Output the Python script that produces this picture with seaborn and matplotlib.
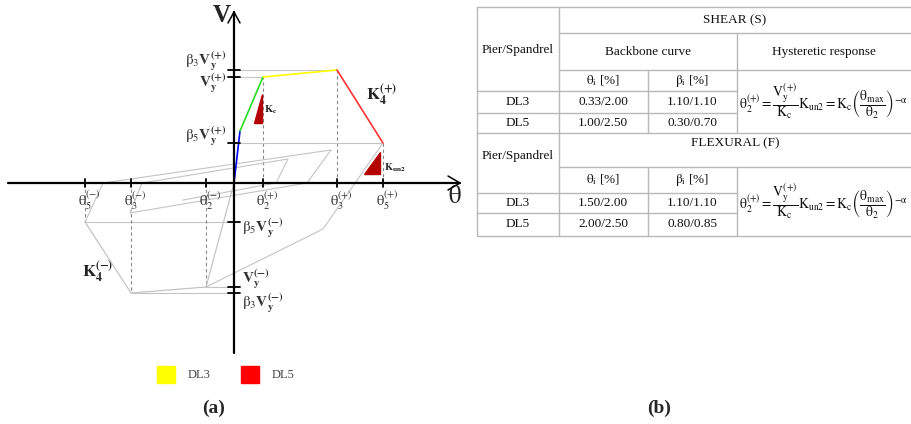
import matplotlib
matplotlib.use("Agg")
import matplotlib.pyplot as plt
import numpy as np
import pandas as pd
import seaborn as sns
from matplotlib.patches import Polygon, Rectangle

sns.set_style("white")
plt.rcParams["font.family"] = ["Liberation Serif", "DejaVu Serif"]
plt.rcParams["mathtext.fontset"] = "stix"

# ---- (a) schematic backbone / hysteresis (schematic units) ----
theta_ticks = [-149, -103, -28, 29, 103, 149]
theta_tick_labels = [r"$\mathrm{\theta_5^{(-)}}$", r"$\mathrm{\theta_3^{(-)}}$", r"$\mathrm{\theta_2^{(-)}}$",
                     r"$\mathrm{\theta_2^{(+)}}$", r"$\mathrm{\theta_3^{(+)}}$", r"$\mathrm{\theta_5^{(+)}}$"]
V_ticks = [113, 106, 40, -39, -104, -110]
V_tick_labels = [r"$\mathrm{\beta_3}\mathbf{V_y^{(+)}}$", r"$\mathbf{V_y^{(+)}}$", r"$\mathrm{\beta_5}\mathbf{V_y^{(+)}}$",
                 r"$\mathrm{\beta_5}\mathbf{V_y^{(-)}}$", r"$\mathbf{V_y^{(-)}}$", r"$\mathrm{\beta_3}\mathbf{V_y^{(-)}}$"]

# positive backbone, coloured by branch
theta_pos = [0, 6, 29, 103, 149]
V_pos = [0, 52, 106, 113, 40]
branch_colors = ["#0000ff", "#22dd22", "#ffff00", "#ff3333"]

# negative backbone (grey)
theta_neg = [0, -28, -103, -149]
V_neg = [0, -104, -110, -39]

# hysteretic loops (grey)
loop1_theta = [-149, -131, 97, 73, -104, -92, 54, 42, -51]
loop1_V = [-39, 0, 33, 0, -30, 0, 24, 0, -17]
loop2_theta = [149, 89, -28]
loop2_V = [40, -46, -104]

# stiffness triangles
kc_tri = [(20, 60), (28, 60), (28, 89)]
kun2_tri = [(130, 9), (146, 9), (146, 31)]

# legend
legend_labels = ["DL3", "DL5"]
legend_colors = ["#ffff00", "#ff0000"]

# ---- (b) table content ----
shear_rows = ["DL3", "DL5"]
shear_theta = ["0.33/2.00", "1.00/2.50"]
shear_beta = ["1.10/1.10", "0.30/0.70"]
flex_rows = ["DL3", "DL5"]
flex_theta = ["1.50/2.00", "2.00/2.50"]
flex_beta = ["1.10/1.10", "0.80/0.85"]
formula = (r"$\mathrm{\theta_2^{(+)}}=\dfrac{\mathrm{V_y^{(+)}}}{\mathrm{K_c}}\mathrm{K_{un2}}=\mathrm{K_c}"
           r"\left(\dfrac{\mathrm{\theta_{max}}}{\mathrm{\theta_2}}\right)^{\mathrm{-\alpha}}$")

W, H = 911, 424
fig = plt.figure(figsize=(W / 100, H / 100), dpi=100)

ax = fig.add_axes([0, 0, 470 / W, 1])
ax.set_xlim(-234, 236)
ax.set_ylim(-241, 183)
ax.axis("off")

grey = "#c4c4c4"
dash_grey = "#8a8a8a"

# guide lines to the axes
for t, v in [(29, 106), (103, 113), (149, 40), (-149, -39), (-103, -110), (-28, -104)]:
    ax.plot([t, t], [0, v], ls=(0, (3, 2.5)), color=dash_grey, lw=0.8, zorder=1)
    ax.plot([0, t], [v, v], color=grey, lw=0.8, zorder=1)

# hysteretic loops and negative backbone
ax.plot(loop1_theta, loop1_V, color=grey, lw=0.8, zorder=1)
ax.plot(loop2_theta, loop2_V, color=grey, lw=0.8, zorder=1)
ax.plot(theta_neg, V_neg, color=grey, lw=0.9, zorder=1)

# coloured positive backbone
rows = []
for i, c in enumerate(branch_colors):
    for j in (i, i + 1):
        rows.append({"theta": theta_pos[j], "V": V_pos[j], "branch": c})
bb = pd.DataFrame(rows)
sns.lineplot(data=bb, x="theta", y="V", hue="branch", palette={c: c for c in branch_colors},
             sort=False, estimator=None, legend=False, lw=1.2, ax=ax, zorder=3)

# axes with open arrowheads
ax.plot([-226, 226], [0, 0], color="black", lw=1.6, zorder=4)
ax.plot([214, 226, 214], [7, 0, -7], color="black", lw=1.1, zorder=4)
ax.plot([0, 0], [-170, 171], color="black", lw=1.6, zorder=4)
ax.plot([-6, 0, 6], [160, 171, 160], color="black", lw=1.1, zorder=4)

for t, lab in zip(theta_ticks, theta_tick_labels):
    ax.plot([t, t], [-4, 4], color="black", lw=1.3, zorder=4)
    ax.text(t + 4, -6, lab, ha="center", va="top", fontsize=10.5, color="#333333")

V_label_y = [122, 100, 47, -45, -96, -120]
for v, lab, ly in zip(V_ticks, V_tick_labels, V_label_y):
    ax.plot([-6, 6], [v, v], color="black", lw=1.3, zorder=4)
    if v > 0:
        ax.text(-7, ly, lab, ha="right", va="center", fontsize=11, color="#333333")
    else:
        ax.text(8, ly, lab, ha="left", va="center", fontsize=11, color="#333333")

ax.add_patch(Polygon(kc_tri, closed=True, color="#b30000", zorder=2))
ax.add_patch(Polygon(kun2_tri, closed=True, color="#b30000", zorder=2))
ax.text(30, 73, r"$\mathbf{K_c}$", fontsize=7.5, ha="left", va="center", color="#222222")
ax.text(150, 15, r"$\mathbf{K_{un2}}$", fontsize=7.5, ha="left", va="center", color="#222222")
ax.text(132, 88, r"$\mathbf{K_4^{(+)}}$", fontsize=12, ha="left", va="center", color="#222222")
ax.text(-152, -89, r"$\mathbf{K_4^{(-)}}$", fontsize=12, ha="left", va="center", color="#222222")
ax.text(-12, 167, "V", fontsize=18, fontweight="bold", ha="center", va="center")
ax.text(221, -14, r"$\mathrm{\theta}$", fontsize=18, ha="center", va="center", color="#222222")

# ---- overlay canvas for legend, captions and table ----
cv = fig.add_axes([0, 0, 1, 1])
cv.set_xlim(0, W)
cv.set_ylim(H, 0)
cv.axis("off")
cv.patch.set_alpha(0)

for x0, lab, col in zip([157, 241], legend_labels, legend_colors):
    cv.add_patch(Rectangle((x0, 366), 18, 17, color=col))
    cv.text(x0 + 31, 375, lab, fontsize=9, ha="left", va="center", color="#444444")

cv.text(214, 408, "(a)", fontsize=14, fontweight="bold", ha="center", va="center")
cv.text(659, 408, "(b)", fontsize=14, fontweight="bold", ha="center", va="center")

# table grid
lc, lw = "#b8b8b8", 1.0
xL, x1, x2, x3, xR = 477, 559, 648, 737, 911
hlines = [(7, xL, xR), (33, x1, xR), (70, x1, xR), (91, xL, x3), (113, xL, x3), (133, xL, xR),
          (167, x1, xR), (193, xL, x3), (213, xL, x3), (236, xL, xR)]
vlines = [(xL, 7, 236), (x1, 7, 236), (x2, 70, 133), (x3, 33, 133), (x2, 167, 236), (x3, 167, 236)]
for y, a, b in hlines:
    cv.plot([a, b], [y, y], color=lc, lw=lw)
for x, a, b in vlines:
    cv.plot([x, x], [a, b], color=lc, lw=lw)

fs = 9.5
tc = "#111111"
cv.text(735, 20, "SHEAR (S)", fontsize=fs, ha="center", va="center", color=tc)
cv.text(518, 50, "Pier/Spandrel", fontsize=fs, ha="center", va="center", color=tc)
cv.text(648, 52, "Backbone curve", fontsize=fs, ha="center", va="center", color=tc)
cv.text(824, 52, "Hysteretic response", fontsize=fs, ha="center", va="center", color=tc)
for y0 in (81, 180):
    cv.text(603, y0, r"$\mathrm{\theta_i}$ [%]", fontsize=fs, ha="center", va="center", color=tc)
    cv.text(692, y0, r"$\mathrm{\beta_i}$ [%]", fontsize=fs, ha="center", va="center", color=tc)
for k, (r, t, b) in enumerate(zip(shear_rows, shear_theta, shear_beta)):
    y0 = 102 + 21 * k
    cv.text(518, y0, r, fontsize=fs, ha="center", va="center", color=tc)
    cv.text(603, y0, t, fontsize=fs, ha="center", va="center", color=tc)
    cv.text(692, y0, b, fontsize=fs, ha="center", va="center", color=tc)
cv.text(739, 101, formula, fontsize=9.8, ha="left", va="center", color=tc)

cv.text(735, 143, "FLEXURAL (F)", fontsize=fs, ha="center", va="center", color=tc)
cv.text(518, 156, "Pier/Spandrel", fontsize=fs, ha="center", va="center", color=tc)
for k, (r, t, b) in enumerate(zip(flex_rows, flex_theta, flex_beta)):
    y0 = 203 + 21 * k
    cv.text(518, y0, r, fontsize=fs, ha="center", va="center", color=tc)
    cv.text(603, y0, t, fontsize=fs, ha="center", va="center", color=tc)
    cv.text(692, y0, b, fontsize=fs, ha="center", va="center", color=tc)
cv.text(739, 201, formula, fontsize=9.8, ha="left", va="center", color=tc)

fig.savefig("out.png", dpi=100)
